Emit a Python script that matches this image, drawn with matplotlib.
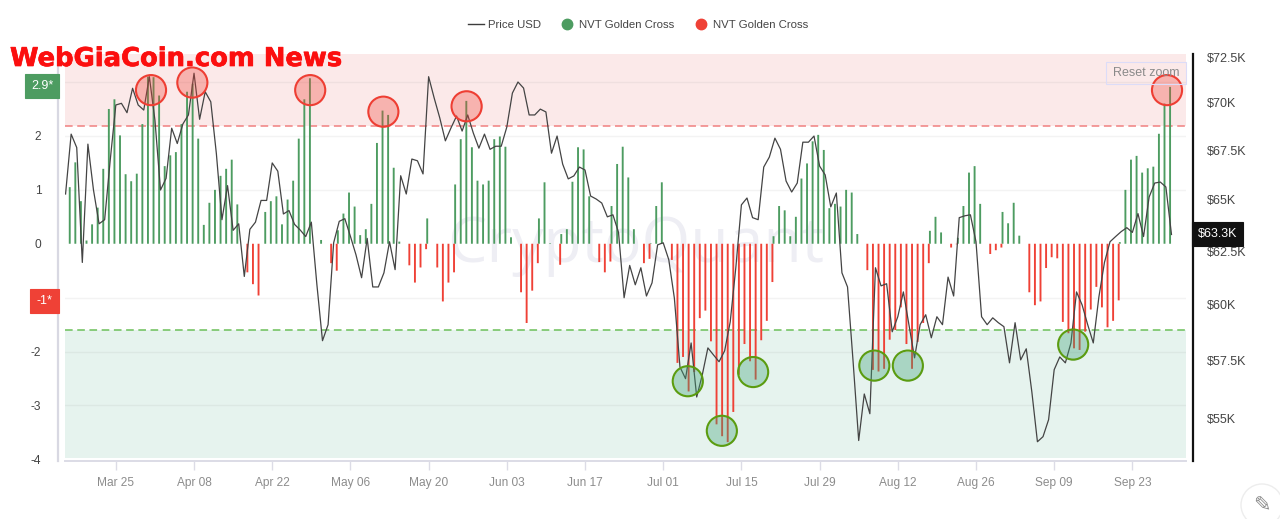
import numpy as np
import matplotlib
matplotlib.use("Agg")
import matplotlib.pyplot as plt
import matplotlib.patheffects as pe
from matplotlib.lines import Line2D
from matplotlib.patches import Circle, Rectangle

plt.rcParams['font.family'] = ['Liberation Sans', 'DejaVu Sans']
plt.rcParams['axes.unicode_minus'] = False

W, H = 1280, 519

# daily BTC price in thousand USD, first value is Mar 16
price = [65.29, 68.35, 67.65, 61.96, 67.83, 65.49, 63.82, 64.02, 67.01, 69.89,
         69.98, 69.48, 70.79, 69.89, 69.62, 71.42, 69.09, 65.49, 66.08, 68.66,
         67.86, 68.88, 69.36, 71.61, 69.13, 70.6, 70.06, 67.34, 64.02, 65.71,
         63.5, 63.82, 61.3, 63.55, 63.9, 64.97, 64.97, 66.86, 66.44, 64.3,
         64.47, 63.79, 63.52, 63.2, 63.9, 60.91, 58.36, 59.08, 62.9, 63.94,
         64.07, 63.21, 62.32, 61.24, 63.11, 60.81, 60.81, 61.47, 62.95, 61.62,
         66.21, 65.29, 67.06, 66.97, 66.3, 71.42, 70.26, 69.2, 68.0, 68.67,
         69.3, 68.51, 69.36, 68.41, 67.62, 68.35, 67.56, 67.72, 67.72, 68.72,
         70.53, 71.13, 70.8, 69.36, 69.36, 69.67, 69.52, 67.36, 68.25, 66.8,
         66.05, 66.2, 66.65, 66.5, 65.19, 65.04, 64.84, 64.16, 64.26, 63.4,
         60.31, 61.82, 60.91, 61.71, 60.39, 61.0, 62.8, 62.9, 62.09, 60.29,
         57.2, 56.69, 58.26, 55.9, 56.86, 58.04, 57.73, 57.43, 57.91, 59.21,
         61.71, 64.75, 65.09, 64.12, 64.02, 66.65, 67.16, 68.14, 67.56, 65.94,
         65.39, 65.84, 67.93, 67.93, 68.25, 66.7, 66.25, 64.65, 65.34, 61.47,
         60.81, 57.43, 54.07, 56.03, 55.19, 61.71, 60.86, 60.96, 58.76, 59.44,
         60.58, 59.08, 57.6, 59.08, 59.53, 58.49, 59.44, 59.08, 61.27, 60.39,
         64.12, 64.21, 64.26, 62.95, 59.44, 59.08, 59.39, 59.17, 58.99, 57.38,
         59.17, 57.51, 58.0, 56.12, 54.02, 54.23, 54.94, 57.08, 57.64, 57.38,
         58.26, 60.58, 59.98, 59.08, 58.26, 60.34, 61.96, 62.95, 63.2, 63.44,
         63.63, 63.4, 64.32, 63.2, 65.14, 65.84, 65.89, 65.64, 63.3]

# NVT golden cross, same days as price
nvt = [0, 1.05, 1.51, 0.79, 0.06, 0.36, 0.67, 1.39, 2.5, 2.68,
       2.01, 1.29, 1.16, 1.3, 2.22, 3.1, 3.09, 2.75, 1.44, 1.64,
       1.7, 2.22, 2.82, 2.97, 1.95, 0.35, 0.76, 1.0, 1.26, 1.39,
       1.56, 0.73, -0.53, -0.75, -0.96, 0, 0.59, 0.79, 0.88, 0.36,
       0.82, 1.17, 1.95, 2.68, 3.07, 0, 0.07, -0.36, -0.5, 0.25,
       0.56, 0.95, 0.69, 0.16, 0.27, 0.74, 1.87, 2.47, 2.39, 1.41,
       0.04, -0.4, -0.72, -0.44, -0.1, 0.47, -0.44, -1.07, -0.72, -0.53,
       1.1, 1.94, 2.65, 1.79, 1.17, 1.1, 1.17, 1.94, 1.99, 1.8,
       0.12, -0.9, -1.47, -0.87, -0.36, 0.47, 1.14, 0.01, -0.39, 0.18,
       0.27, 1.15, 1.79, 1.75, 0.88, -0.34, -0.53, -0.33, 0.7, 1.48,
       1.8, 1.23, 0.27, -0.36, -0.28, 0.01, 0.7, 1.14, -0.3, -2.21,
       -2.1, -2.74, -2.38, -1.38, -1.24, -1.81, -3.35, -3.57, -3.68, -3.12,
       -2.43, -1.86, -2.18, -2.52, -1.79, -1.43, -0.71, 0.14, 0.7, 0.62,
       0.14, 0.5, 1.21, 1.49, 1.9, 2.02, 1.74, 0.66, 0.74, 0.69,
       1.0, 0.95, 0.18, -0.49, -2.34, -2.37, -2.32, -1.78, -1.6, -1.18,
       -1.86, -2.32, -1.82, -1.47, -0.36, 0.24, 0.5, 0.21, -0.07, -0.01,
       0.11, 0.7, 1.32, 1.44, 0.74, -0.19, -0.12, -0.07, 0.59, 0.38,
       0.76, 0.15, -0.9, -1.14, -1.07, -0.45, -0.25, -0.27, -1.45, -1.66,
       -1.94, -1.97, -1.63, -1.22, -0.8, -1.18, -1.55, -1.43, -1.05, 0.03,
       1.0, 1.56, 1.63, 1.32, 1.4, 1.43, 2.04, 2.6, 2.91]

date_days = [9, 23, 37, 51, 65, 79, 93, 107, 121, 135, 149, 163, 177, 191]
date_labels = ['Mar 25', 'Apr 08', 'Apr 22', 'May 06', 'May 20', 'Jun 03', 'Jun 17',
               'Jul 01', 'Jul 15', 'Jul 29', 'Aug 12', 'Aug 26', 'Sep 09', 'Sep 23']
nvt_ticks = [-4, -3, -2, 0, 1, 2]
price_ticks = [55, 57.5, 60, 62.5, 65, 67.5, 70, 72.5]
price_labels = ['$55K', '$57.5K', '$60K', '$62.5K', '$65K', '$67.5K', '$70K', '$72.5K']

# circled tops and bottoms (day, nvt)
top_days = [15.3, 22.7, 43.8, 56.9, 71.8, 197.2]
top_vals = [2.85, 2.99, 2.85, 2.45, 2.55, 2.85]
bottom_days = [111.4, 117.5, 123.1, 144.8, 150.8, 180.4]
bottom_vals = [-2.55, -3.47, -2.38, -2.26, -2.26, -1.87]

upper_band = 2.19
lower_band = -1.6

GREEN = '#4d9c61'
RED = '#ef4136'
days = np.arange(len(price))
nvt = np.array(nvt)

fig = plt.figure(figsize=(W / 100, H / 100), dpi=100)
ax = fig.add_axes([65 / W, 1 - 461 / H, (1186 - 65) / W, (461 - 54) / H])
ax.set_xlim(-0.1, 200.6)
ax.set_ylim(-4.03, 3.52)

# bands and grid
ax.axhspan(upper_band, 3.52, color='#fbe9e9', lw=0, zorder=0)
ax.axhspan(-3.98, lower_band, color='#e6f3ee', lw=0, zorder=0)
for v in [-3, -2, -1, 1, 2, 3]:
    ax.axhline(v, color='#8a8a8a', alpha=0.1, lw=1, zorder=1)
ax.axhline(upper_band, color='#f08080', lw=1.1, ls=(0, (5, 3)), zorder=2)
ax.axhline(lower_band, color='#6cc05a', lw=1.1, ls=(0, (5, 3)), zorder=2)

ax.text(0.509, 0.53, 'CryptoQuant', transform=ax.transAxes, ha='center', va='center',
        fontsize=45, color='#eeeef4', zorder=1, family='Open Sans')

green_bars = ax.bar(days[nvt > 0] - 0.25, nvt[nvt > 0], width=0.34, color=GREEN, lw=0, zorder=3)
red_bars = ax.bar(days[nvt < 0] + 0.55, nvt[nvt < 0], width=0.34, color=RED, lw=0, zorder=3)
for p in list(green_bars) + list(red_bars):
    p.set_snap(False)

ax.set_xticks(date_days, date_labels)
ax.set_yticks(nvt_ticks)
ax.tick_params(axis='x', length=6.5, width=1, color='#dcdce6', labelsize=8.6,
               labelcolor='#8c8c8c', pad=5)
ax.tick_params(axis='y', length=0, labelsize=8.6, labelcolor='#444444', pad=12)
for s in ['top', 'right']:
    ax.spines[s].set_visible(False)
ax.spines['bottom'].set_color('#dcdce6')
ax.spines['bottom'].set_linewidth(1.4)
ax.spines['left'].set_color('#d8d8e2')
ax.spines['left'].set_linewidth(1.6)
ax.spines['left'].set_position(('outward', 5))

# price line on log axis
ax2 = ax.twinx()
ax2.set_yscale('log')
ax2.plot(days, price, color='#444444', lw=0.9, zorder=4)
ax2.set_ylim(53.23, 72.67)
ax2.set_yticks(price_ticks, price_labels)
ax2.minorticks_off()
ax2.tick_params(axis='y', which='both', length=0, labelsize=9, labelcolor='#444444', pad=10)
for s in ['top', 'left', 'bottom']:
    ax2.spines[s].set_visible(False)
ax2.spines['right'].set_color('#111111')
ax2.spines['right'].set_linewidth(1.6)
ax2.spines['right'].set_position(('outward', 5))

ax2.scatter(top_days, top_vals, s=470, transform=ax.transData, facecolor='#ef4136', alpha=0.32,
            lw=0, zorder=5)
ax2.scatter(top_days, top_vals, s=470, transform=ax.transData, facecolor='none',
            edgecolor='#ee3e33', lw=1.5, zorder=6)
ax2.scatter(bottom_days, bottom_vals, s=470, transform=ax.transData, facecolor='#3fa277', alpha=0.36,
            lw=0, zorder=5)
ax2.scatter(bottom_days, bottom_vals, s=470, transform=ax.transData, facecolor='none',
            edgecolor='#5b9c10', lw=1.5, zorder=6)
ax2.set_xlim(-0.1, 200.6)


def fx(px):
    return px / W


def fy(px):
    return 1 - px / H


def badge(x0, x1, y0, y1, txt, face, tcolor='white', edge=None):
    fig.add_artist(Rectangle((fx(x0), fy(y1)), (x1 - x0) / W, (y1 - y0) / H, facecolor=face,
                             edgecolor=edge if edge else face, lw=0.8,
                             transform=fig.transFigure, zorder=10))
    fig.text(fx((x0 + x1) / 2), fy((y0 + y1) / 2), txt, color=tcolor, fontsize=9,
             ha='center', va='center', zorder=11)


badge(25, 59, 74, 98, '2.9*', GREEN)
badge(30, 59, 289, 313, '-1*', RED)
badge(1192, 1243, 222, 246, '$63.3K', '#111111')
badge(1106, 1186, 62, 84, 'Reset zoom', 'none', tcolor='#8a8a8a', edge='#dcdcf8')

# site stamp
fig.text(fx(10), fy(59), 'WebGiaCoin.com News', color='#fb0f0f', fontsize=18.6,
         family='DejaVu Sans', fontweight='bold', ha='left', va='center', zorder=12,
         path_effects=[pe.withStroke(linewidth=0.5, foreground='#fb0f0f')])

handles = [Line2D([], [], color='#3c3c3c', lw=1),
           Line2D([], [], color='#4d9c61', marker='o', ls='', ms=7.5),
           Line2D([], [], color=RED, marker='o', ls='', ms=7.5)]
fig.legend(handles, ['Price USD', 'NVT Golden Cross', 'NVT Golden Cross'], loc='center',
           bbox_to_anchor=(fx(638), fy(25)), ncols=3, frameon=False, fontsize=8.2,
           labelcolor='#444444', columnspacing=1.6, handlelength=1.4, handletextpad=0.35)

# edit button in the corner
fig.add_artist(Circle((1262, H - 505), 21, transform=None, facecolor='white',
                      edgecolor='#ededed', lw=1, zorder=10))
fig.text(fx(1262), fy(505), '\u270e', family='DejaVu Sans', color='#8a8a8a', fontsize=15,
         ha='center', va='center', zorder=11)

fig.savefig('out.png', dpi=100)
